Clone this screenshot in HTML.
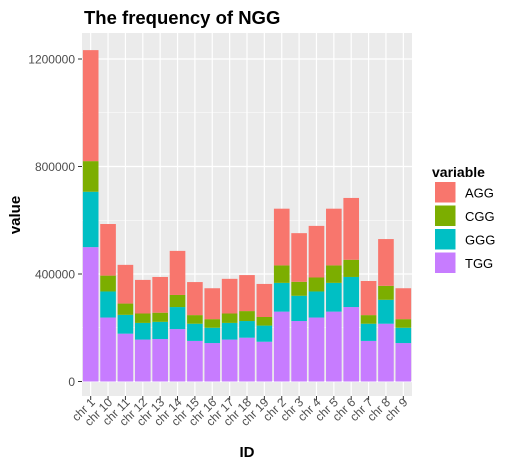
<!DOCTYPE html>
<html><head><meta charset="utf-8"><style>
body{margin:0;background:#fff;width:510px;height:466px;overflow:hidden;font-family:"Liberation Sans",Arial,sans-serif}
</style></head><body>
<svg id="chart" width="510" height="466" viewBox="0 0 510 466" xmlns="http://www.w3.org/2000/svg">
<text x="84" y="24" font-size="18.5" font-weight="bold" fill="#000">The frequency of NGG</text>
<rect x="82" y="33" width="330" height="363" fill="#ebebeb"/>
<g id="grid"></g>
<g id="bars"></g>
<g id="axes"></g>
<text x="247" y="457" font-size="15" font-weight="bold" text-anchor="middle">ID</text>
<text transform="translate(20,215) rotate(-90)" font-size="15" font-weight="bold" text-anchor="middle">value</text>
<g id="legend">
<text x="432" y="177" font-size="14" font-weight="bold">variable</text>
</g>
</svg>
<script>
const categories=["chr 1","chr 10","chr 11","chr 12","chr 13","chr 14","chr 15","chr 16","chr 17","chr 18","chr 19","chr 2","chr 3","chr 4","chr 5","chr 6","chr 7","chr 8","chr 9"];
const TGG=[500000,238000,178000,156000,158000,195000,151000,143000,156000,163000,148000,260000,225000,238000,260000,277000,151000,215000,143000];
const GGG=[206000,97000,70000,62000,64000,82000,64000,57000,62000,62000,60000,107000,94000,97000,107000,112000,64000,89000,57000];
const CGG=[114000,59000,42000,35000,34000,45000,32000,32000,35000,37000,32000,65000,52000,52000,65000,64000,32000,52000,32000];
const AGG=[413000,192000,144000,125000,133000,164000,123000,115000,129000,134000,123000,211000,181000,192000,211000,230000,127000,174000,115000];
const yTicks=[0,400000,800000,1200000];
const seriesNames=["TGG","GGG","CGG","AGG"];
const colors={AGG:"#F8766D",CGG:"#7CAE00",GGG:"#00BFC4",TGG:"#C77CFF"};
const series={TGG,GGG,CGG,AGG};
const NS="http://www.w3.org/2000/svg";
const L=82,R=412,T=33,B=396;
const y0=381.5, pxPer=107.5/400000;
function yS(v){return y0-v*pxPer;}
const band=(R-L)/categories.length;
function xC(i){return L+band*(i+0.5);}
function mk(tag,attrs,parent){const e=document.createElementNS(NS,tag);for(const k in attrs)e.setAttribute(k,attrs[k]);parent.appendChild(e);return e;}
const grid=document.getElementById('grid'),bars=document.getElementById('bars'),axes=document.getElementById('axes'),legend=document.getElementById('legend');
for(let k=0;k<yTicks.length-1;k++){const m=(yTicks[k]+yTicks[k+1])/2;const g=mk('line',{x1:L,x2:R,y1:yS(m),y2:yS(m),stroke:'#fff','stroke-width':0.6},grid);

}
yTicks.forEach(v=>{const g=mk('line',{x1:L,x2:R,y1:yS(v),y2:yS(v),stroke:'#fff','stroke-width':1.2},grid);


const t=mk('line',{x1:78,x2:82,y1:yS(v),y2:yS(v),stroke:'#333','stroke-width':1},axes);


const l=mk('text',{x:75,y:yS(v)+4.5,'font-size':12,fill:'#4d4d4d','text-anchor':'end'},axes);l.textContent=v;

});
categories.forEach((c,i)=>{const x=xC(i);
const g=mk('line',{x1:x,x2:x,y1:T,y2:B,stroke:'#fff','stroke-width':1.2},grid);


let acc=0;const w=band*0.9;
seriesNames.forEach(s=>{const v=series[s][i];const r=mk('rect',{x:x-w/2,y:yS(acc+v),width:w,height:v*pxPer,fill:colors[s]},bars);

acc+=v;});
const t=mk('line',{x1:x,x2:x,y1:B,y2:B+4,stroke:'#333','stroke-width':1},axes);


const l=mk('text',{transform:`translate(${x+5},${B+7}) rotate(-45)`,'font-size':12,fill:'#4d4d4d','text-anchor':'end'},axes);l.textContent=c;

});
["AGG","CGG","GGG","TGG"].forEach((s,k)=>{const y=181.5+k*23.5;
const r=mk('rect',{x:434.5,y:y,width:21.5,height:21.5,fill:colors[s],stroke:'#fff','stroke-width':1},legend);


const l=mk('text',{x:465,y:y+16,'font-size':13,fill:'#000'},legend);l.textContent=s;

});
</script>
</body></html>
